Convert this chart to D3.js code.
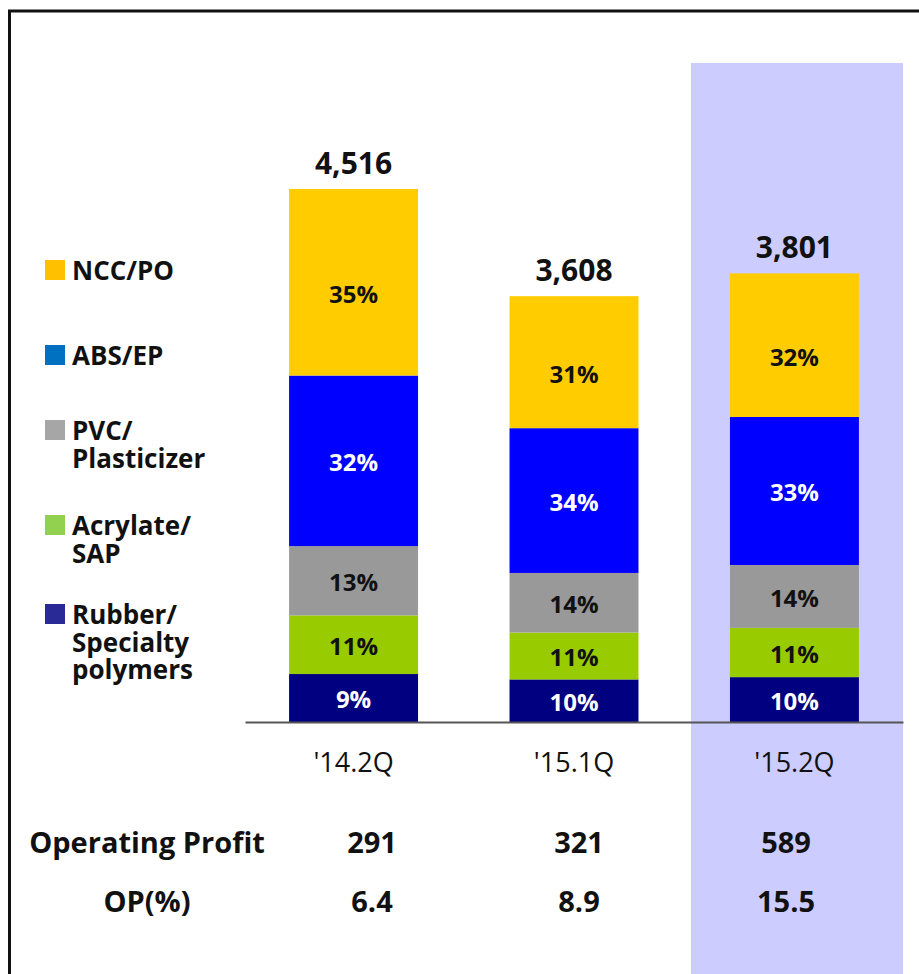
<!DOCTYPE html>
<html>
<head>
<meta charset="utf-8">
<script src="https://cdn.jsdelivr.net/npm/d3@7"></script>
<style>
  body { margin: 0; background: #fff; }
  svg text { font-family: "Open Sans", sans-serif; }
</style>
</head>
<body>
<div id="chart-area"></div>
<script>
// quarters and segment shares (%), bottom to top
var quarters = ["'14.2Q", "'15.1Q", "'15.2Q"];
var segments = ["Rubber/Specialty polymers", "Acrylate/SAP", "PVC/Plasticizer", "ABS/EP", "NCC/PO"];
var totals = [4516, 3608, 3801];
var rubberPct   = [9, 10, 10];
var acrylatePct = [11, 11, 11];
var pvcPct      = [13, 14, 14];
var absPct      = [32, 34, 33];
var nccPct      = [35, 31, 32];
var opProfit = ["291", "321", "589"];
var opPct    = ["6.4", "8.9", "15.5"];

var legendItems = [
  { lines: ["NCC/PO"], color: "#FFC000" },
  { lines: ["ABS/EP"], color: "#0070C0" },
  { lines: ["PVC/", "Plasticizer"], color: "#A6A6A6" },
  { lines: ["Acrylate/", "SAP"], color: "#92D050" },
  { lines: ["Rubber/", "Specialty", "polymers"], color: "#2A2A96" }
];

var W = 919, H = 974;
var baseY = 722;

var svg = d3.select("#chart-area")
    .append("svg")
      .attr("width", W)
      .attr("height", H);

var x = d3.scaleBand()
    .domain(quarters)
    .range([245, 903])
    .paddingInner(0.415)
    .paddingOuter(0.2);

var y = d3.scaleLinear()
    .domain([0, 4516])
    .range([baseY, 189]);

// highlight of latest quarter
svg.append("rect")
    .attr("x", 691)
    .attr("y", 63)
    .attr("width", 212)
    .attr("height", H - 63)
    .attr("fill", "#CCCCFF");

// frame
svg.append("rect")
    .attr("x", 9.5)
    .attr("y", 11)
    .attr("width", W + 20)
    .attr("height", H + 20)
    .attr("fill", "none")
    .attr("stroke", "#111")
    .attr("stroke-width", 3);

// build stacked data from shares
var pctSeries = [rubberPct, acrylatePct, pvcPct, absPct, nccPct];
var rows = quarters.map(function(q, i) {
  var r = { quarter: q };
  segments.forEach(function(s, k) { r[s] = totals[i] * pctSeries[k][i] / 100; });
  return r;
});
var stack = d3.stack().keys(segments)(rows);

var barColor = d3.scaleOrdinal()
    .domain(segments)
    .range(["#000080", "#99CC00", "#999999", "#0000FF", "#FFCC00"]);
var textColor = d3.scaleOrdinal()
    .domain(segments)
    .range(["#fff", "#111", "#111", "#fff", "#111"]);

var layers = svg.selectAll("g.layer")
    .data(stack)
    .enter()
    .append("g")
      .attr("class", "layer");

layers.selectAll("rect")
    .data(function(d) { return d.map(function(v) { v.key = d.key; return v; }); })
    .enter()
    .append("rect")
      .attr("x", function(d) { return x(d.data.quarter); })
      .attr("y", function(d) { return y(d[1]); })
      .attr("width", x.bandwidth())
      .attr("height", function(d) { return y(d[0]) - y(d[1]); })
      .attr("fill", function(d) { return barColor(d.key); });

layers.selectAll("text")
    .data(function(d, k) { return d.map(function(v, i) { return { v: v, key: d.key, pct: pctSeries[k][i] }; }); })
    .enter()
    .append("text")
      .attr("x", function(d) { return x(d.v.data.quarter) + x.bandwidth() / 2; })
      .attr("y", function(d) {
        var mid = (y(d.v[0]) + y(d.v[1])) / 2;
        return mid + (d.key === "NCC/PO" ? 12 : 2);
      })
      .attr("dy", "0.35em")
      .attr("text-anchor", "middle")
      .attr("font-size", "24px")
      .attr("font-weight", "bold")
      .attr("fill", function(d) { return textColor(d.key); })
      .text(function(d) { return d.pct + "%"; });

// totals
svg.selectAll("text.total")
    .data(totals)
    .enter()
    .append("text")
      .attr("class", "total")
      .attr("x", function(d, i) { return x(quarters[i]) + x.bandwidth() / 2; })
      .attr("y", function(d) { return y(d) - 15; })
      .attr("text-anchor", "middle")
      .attr("font-size", "30px")
      .attr("font-weight", "bold")
      .attr("fill", "#111")
      .text(function(d) { return d3.format(",")(d); });

// baseline + category labels
var xAxis = d3.axisBottom(x).tickSize(0).tickPadding(0);
var axisG = svg.append("g")
    .attr("transform", "translate(0," + baseY + ")")
    .call(xAxis);
axisG.select(".domain")
    .attr("stroke", "#555")
    .attr("stroke-width", 2);
axisG.selectAll("text")
    .attr("y", 50)
    .attr("dy", 0)
    .attr("font-size", "27px")
    .attr("fill", "#111")
    .style("font-family", "'Open Sans', sans-serif");

// legend
var leg = svg.append("g");
var legY = [260, 345, 420, 515, 604];
legendItems.forEach(function(item, i) {
  leg.append("rect")
      .attr("x", 45)
      .attr("y", legY[i])
      .attr("width", 20)
      .attr("height", 20)
      .attr("fill", item.color);
  item.lines.forEach(function(line, j) {
    leg.append("text")
        .attr("x", 72)
        .attr("y", legY[i] + 20 + j * 27.5)
        .attr("font-size", "26px")
        .attr("font-weight", "bold")
        .attr("fill", "#111")
        .text(line);
  });
});

// operating profit table
var col = d3.scalePoint()
    .domain(quarters)
    .range([372, 786]);

var tableRows = [
  { label: "Operating Profit", values: opProfit, y: 853 },
  { label: "OP(%)", values: opPct, y: 912 }
];
tableRows.forEach(function(r) {
  svg.append("text")
      .attr("x", 147)
      .attr("y", r.y)
      .attr("text-anchor", "middle")
      .attr("font-size", "29px")
      .attr("font-weight", "bold")
      .attr("fill", "#111")
      .text(r.label);
  svg.selectAll(null)
      .data(r.values)
      .enter()
      .append("text")
        .attr("x", function(d, i) { return col(quarters[i]); })
        .attr("y", r.y)
        .attr("text-anchor", "middle")
        .attr("font-size", "29px")
        .attr("font-weight", "bold")
        .attr("fill", "#111")
        .text(function(d) { return d; });
});
</script>
</body>
</html>
